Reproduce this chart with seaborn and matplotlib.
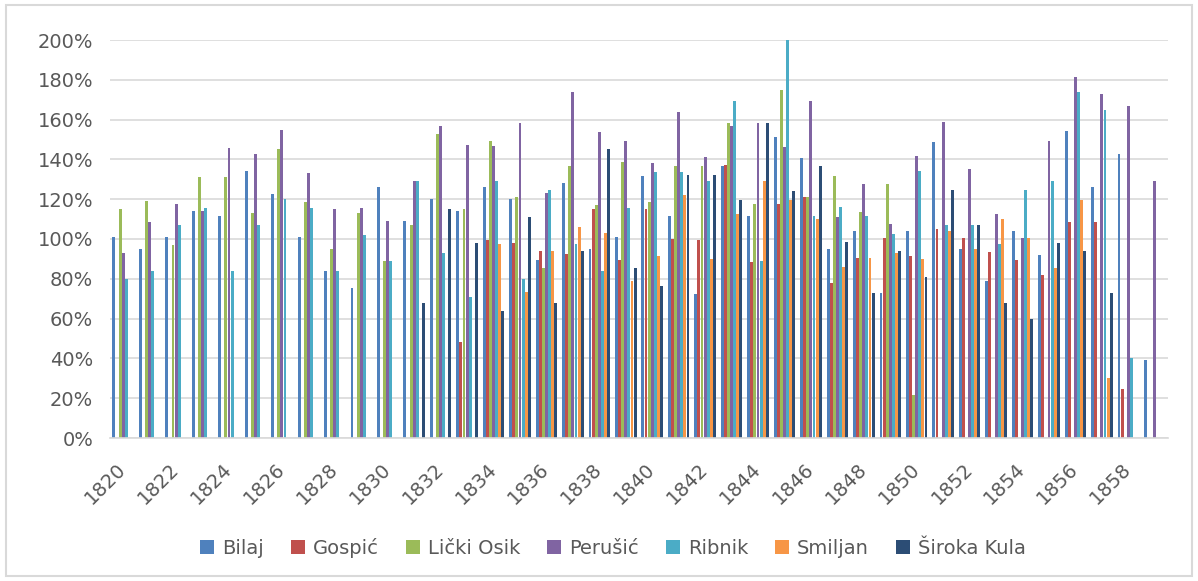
import numpy as np
import pandas as pd
import matplotlib
matplotlib.use("Agg")
import matplotlib.pyplot as plt
import seaborn as sns
from matplotlib.patches import Rectangle

N = None
years = list(range(1820, 1860))
series_names = ["Bilaj", "Gospić", "Lički Osik", "Perušić", "Ribnik", "Smiljan", "Široka Kula"]
colors = ["#4F81BD", "#C0504D", "#9BBB59", "#8064A2", "#4BACC6", "#F79646", "#2C4D75"]

bilaj = [101, 95, 101, 114, 111.5, 134, 122.5, 101, 83.7, 75.3,
         126, 109, 120, 114, 126, 120, 89.5, 128, 95, 101,
         131.7, 111.7, 72.5, 136.7, 111.7, 151.5, 140.5, 95, 103.8, 72.8,
         103.8, 148.8, 95, 79, 103.8, 92, 154.5, 126, 142.5, 39.3]
gospic = [N, N, N, N, N, N, N, N, N, N,
          N, N, N, 48, 99.5, 98, 94, 92.5, 115, 89.5,
          115, 100, 99.5, 137.3, 88.4, 117.5, 121, 78, 90.4, 100.4,
          91.5, 105, 100.4, 93.7, 89.5, 82, 108.7, 108.7, 24.5, N]
licki_osik = [115, 119, 97, 131, 131, 113, 145, 118.7, 95, 113,
              89, 107, 153, 115, 149, 121, 85.5, 136.7, 117, 138.7,
              118.7, 136.7, 136.7, 158.5, 117.5, 175, 121, 131.7, 113.5, 127.5,
              21.6, N, N, N, N, N, N, N, N, N]
perusic = [93, 108.5, 117.5, 114, 145.7, 142.5, 154.7, 133, 115, 115.5,
           109, 129, 157, 147, 146.5, 158.5, 123, 174, 154, 149,
           138, 163.7, 141, 157, 158.5, 146, 169.4, 111, 127.5, 107.6,
           141.7, 159, 135, 112.5, 100.4, 149, 181.6, 172.7, 167, 129]
ribnik = [80, 84, 107, 115.5, 84, 107, 120, 115.5, 84, 102,
          88.7, 129, 93, 71, 129, 80, 124.5, 97.5, 84, 115.5,
          133.5, 133.5, 129, 169.4, 89, 200, 111.6, 116, 111.6, 102.6,
          134, 107, 107, 97.6, 124.5, 129, 174, 165, 40, N]
smiljan = [N, N, N, N, N, N, N, N, N, N,
           N, N, N, N, 97.5, 73.6, 94, 106, 103, 79,
           91.5, 122, 90, 112.8, 128.9, 119.5, 110, 85.9, 90.4, 92.9,
           90, 103.8, 95, 110, 100.4, 85.5, 119.5, 30, N, N]
siroka_kula = [N, N, N, N, N, N, N, N, N, N,
               N, 68, 115, 98, 64, 111, 68, 94, 145, 85.5,
               76.5, 132, 132, 119.8, 158.5, 124, 136.7, 98.7, 72.8, 94.2,
               81, 124.4, 107, 68, 60, 98, 94, 72.8, N, N]
series_values = [bilaj, gospic, licki_osik, perusic, ribnik, smiljan, siroka_kula]

rows = []
for name, vals in zip(series_names, series_values):
    for yr, v in zip(years, vals):
        if v is not None:
            rows.append((str(yr), name, v))
df = pd.DataFrame(rows, columns=["Year", "Place", "Value"])

sns.set_theme(style="white")
plt.rcParams["font.family"] = ["DejaVu Sans"]

W, H = 1198, 581
fig = plt.figure(figsize=(W / 100, H / 100), dpi=100)
ax = fig.add_axes([110 / W, 1 - 438 / H, 1058 / W, 398 / H])

sns.barplot(data=df, x="Year", y="Value", hue="Place",
            order=[str(y) for y in years], hue_order=series_names,
            palette=colors, saturation=1, width=0.82, gap=0.06,
            errorbar=None, linewidth=0, ax=ax)

ax.set_xlim(-0.5, len(years) - 0.5)
ax.set_ylim(0, 200)
ax.set_yticks(range(0, 201, 20))
ax.set_yticklabels([f"{v}%" for v in range(0, 201, 20)])
ax.set_xticks(range(0, len(years), 2))
ax.set_xticklabels([str(y) for y in years[::2]])
ax.set_xlabel("")
ax.set_ylabel("")

ax.yaxis.grid(True, color="#D9D9D9", lw=1.2)
ax.set_axisbelow(True)
for s in ["left", "right", "top"]:
    ax.spines[s].set_visible(False)
ax.spines["bottom"].set_color("#D9D9D9")
ax.spines["bottom"].set_linewidth(1.2)

ax.tick_params(axis="y", length=0, labelsize=14, labelcolor="#595959", pad=12)
ax.tick_params(axis="x", length=0, labelsize=14, labelcolor="#595959", pad=20)
for lab in ax.get_xticklabels():
    lab.set_rotation(45)
    lab.set_ha("right")
    lab.set_va("center")
    lab.set_rotation_mode("anchor")

handles, labels = ax.get_legend_handles_labels()
if ax.get_legend() is not None:
    ax.get_legend().remove()
leg = fig.legend(handles, labels, loc="center", bbox_to_anchor=(613 / W, 1 - 548 / H),
                 ncol=7, frameon=False, fontsize=14, handlelength=0.72, handleheight=0.72,
                 handletextpad=0.41, columnspacing=1.39)
for t in leg.get_texts():
    t.set_color("#595959")

fig.add_artist(Rectangle((6 / W, 5 / H), 1186 / W, 571 / H, transform=fig.transFigure,
                         fill=False, edgecolor="#D9D9D9", lw=1.5))

fig.savefig("out.png", dpi=100)
